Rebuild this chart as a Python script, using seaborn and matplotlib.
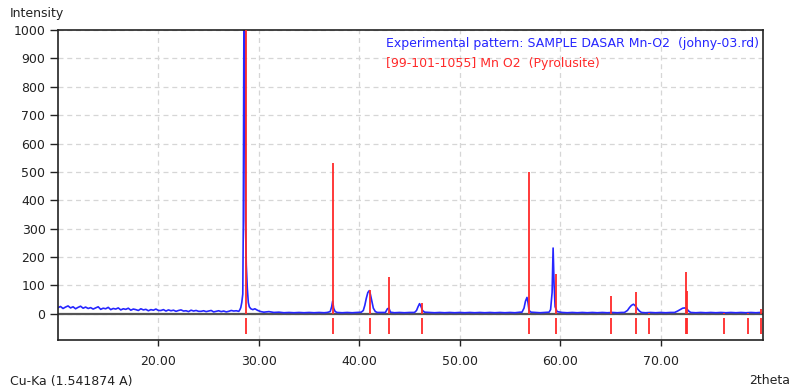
import matplotlib
matplotlib.use("Agg")
import matplotlib.pyplot as plt
import seaborn as sns
import pandas as pd

# Experimental pattern (2theta, counts)
exp_2theta = [
    10.0, 10.25, 10.5, 10.75, 11.0, 11.25, 11.5, 11.75, 12.0, 12.25, 12.5, 12.75, 13.0,
    13.25, 13.5, 13.75, 14.0, 14.25, 14.5, 14.75, 15.0, 15.25, 15.5, 15.75, 16.0,
    16.25, 16.5, 16.75, 17.0, 17.25, 17.5, 17.75, 18.0, 18.25, 18.5, 18.75, 19.0, 19.25, 19.5, 19.75, 20.0,
    20.25, 20.5, 20.75, 21.0, 21.25, 21.5, 21.75, 22.0, 22.25, 22.5, 22.75, 23.0, 23.25, 23.5, 23.75, 24.0,
    24.25, 24.5, 24.75, 25.0, 25.25, 25.5, 25.75, 26.0, 26.25, 26.5, 26.75, 27.0, 27.25, 27.5, 27.75, 28.0,
    28.1, 28.2, 28.3, 28.4, 28.45, 28.52, 28.6, 28.66, 28.75, 28.85, 28.95, 29.05, 29.2, 29.4, 29.6, 29.9,
    30.2, 30.5, 31.0, 31.5, 32.0, 32.5, 33.0, 33.5, 34.0, 34.5, 35.0, 35.5, 36.0, 36.5,
    36.8, 37.1, 37.25, 37.35, 37.45, 37.6, 37.8, 38.3, 38.8, 39.3, 39.8,
    40.2, 40.4, 40.55, 40.7, 40.85, 41.0, 41.1, 41.25, 41.4, 41.6, 41.8, 42.2,
    42.6, 42.8, 42.95, 43.1, 43.5, 44.0, 44.5, 45.0,
    45.5, 45.7, 45.85, 46.0, 46.1, 46.3, 46.5, 47.0, 47.5, 48.0, 48.5, 49.0, 49.5, 50.0,
    50.5, 51.0, 51.5, 52.0, 52.5, 53.0, 53.5, 54.0, 54.5, 55.0, 55.5, 56.0,
    56.2, 56.4, 56.55, 56.7, 56.8, 56.9, 57.1, 57.5, 58.0, 58.5,
    58.9, 59.05, 59.2, 59.3, 59.4, 59.5, 59.7, 60.2, 60.7, 61.2, 61.7, 62.2, 62.7, 63.2, 63.7,
    64.2, 64.7, 65.2, 65.7, 66.1, 66.4, 66.7, 66.9, 67.1, 67.3, 67.5, 67.7, 67.9, 68.1,
    68.5, 69.0, 69.5, 70.0, 70.5, 71.0, 71.4, 71.7, 72.0, 72.2, 72.4, 72.6, 72.8, 73.0,
    73.5, 74.0, 74.5, 75.0, 75.5, 76.0, 76.5, 77.0, 77.5, 78.0, 78.5, 79.0, 79.5, 79.9,
]
exp_counts = [
    22, 26, 19, 24, 28, 21, 25, 18, 23, 27, 20, 24, 19,
    22, 17, 21, 25, 16, 20, 18, 23, 15, 19, 17, 21,
    14, 18, 16, 20, 13, 17, 15, 12, 18, 14, 16, 11, 15, 13, 17, 12,
    12, 15, 10, 14, 11, 13, 9, 12, 14, 10, 11, 8, 13, 10, 12, 9,
    9, 11, 8, 10, 12, 7, 9, 11, 8, 10, 7, 9, 12, 10, 11, 9,
    14, 22, 40, 70, 310, 1150, 1150, 330, 172, 90, 40, 25, 18, 15, 18, 12,
    8, 6, 8, 5, 6, 4, 5, 4, 5, 4, 5, 4, 5, 4,
    5, 8, 25, 45, 20, 8, 5, 4, 5, 4, 5,
    6, 12, 30, 55, 75, 82, 70, 45, 20, 8, 5, 5,
    5, 18, 20, 6, 4, 5, 4, 5,
    5, 12, 25, 36, 30, 12, 6, 5, 4, 5, 4, 5, 4, 5,
    4, 5, 4, 5, 4, 5, 4, 5, 4, 5, 4, 6,
    6, 20, 45, 58, 40, 12, 6, 5, 4, 5,
    6, 15, 75, 232, 100, 25, 8, 5, 4, 5, 4, 5, 4, 5, 4,
    5, 4, 5, 4, 5, 5, 12, 22, 30, 34, 28, 18, 10, 5,
    4, 5, 4, 5, 4, 5, 5, 10, 16, 20, 21, 18, 10, 5,
    4, 5, 4, 5, 4, 5, 4, 5, 4, 5, 4, 5, 4, 5,
]

# Reference pattern [99-101-1055] Mn O2 (Pyrolusite)
ref_2theta = [28.75, 37.42, 41.05, 42.95, 46.2, 56.9, 59.55, 65.1, 67.55, 68.85, 72.5, 72.62, 76.3, 78.7, 80.0]
ref_intensity = [1000, 532, 84, 129, 40, 500, 141, 63, 76, 2, 149, 81, 3, 2, 18]

xticks = [20, 30, 40, 50, 60, 70]
yticks = [0, 100, 200, 300, 400, 500, 600, 700, 800, 900, 1000]

sns.set_theme(style="white")
plt.rcParams['font.family'] = ['DejaVu Sans']

fig = plt.figure(figsize=(7.91, 3.90), dpi=100)
ax = fig.add_axes([58 / 791, 1 - 340 / 390, (763 - 58) / 791, (340 - 30) / 390])

blue = "#2626ff"
red = "#ff2a2a"
txt = "#222222"

ax.axhline(0, color="#555555", lw=1.6, zorder=1)

df = pd.DataFrame({"2theta": exp_2theta, "counts": exp_counts})
sns.lineplot(data=df, x="2theta", y="counts", ax=ax, color=blue, lw=1.2,
             sort=False, estimator=None, zorder=2)

ax.vlines(ref_2theta, 0, ref_intensity, color=red, lw=1.3, zorder=3)
ax.vlines(ref_2theta, -15, -70, color=red, lw=1.3, zorder=3)

ax.set_xlim(10, 80.2)
ax.set_ylim(-92, 1000)
ax.set_xticks(xticks)
ax.set_xticklabels([f"{t:.2f}" for t in xticks])
ax.set_yticks(yticks)
ax.set_yticklabels([str(t) for t in yticks])
ax.set_xlabel("")
ax.set_ylabel("")

ax.grid(True, ls=(0, (4, 3)), color="#d6d6d6", lw=0.9)
ax.set_axisbelow(True)
for s in ax.spines.values():
    s.set_color(txt)
    s.set_linewidth(1.2)
    s.set_visible(True)
ax.tick_params(axis="both", which="both", direction="out", width=1,
               color=txt, labelsize=9, labelcolor=txt)
ax.tick_params(axis="x", bottom=True, length=4, pad=7)
ax.tick_params(axis="y", left=True, length=6, pad=3)

fig.text(10 / 791, 1 - 14 / 390, "Intensity", fontsize=9, color=txt, va="center", ha="left")
fig.text(10 / 791, 1 - 381 / 390, "Cu-Ka (1.541874 A)", fontsize=9, color=txt, va="center", ha="left")
fig.text(790 / 791, 1 - 381 / 390, "2theta", fontsize=9, color=txt, va="center", ha="right")

fig.text(386 / 791, 1 - 43 / 390, "Experimental pattern: SAMPLE DASAR Mn-O2  (johny-03.rd)",
         fontsize=9, color=blue, va="center", ha="left")
fig.text(386 / 791, 1 - 63 / 390, "[99-101-1055] Mn O2  (Pyrolusite)",
         fontsize=9, color=red, va="center", ha="left")

fig.savefig("out.png", dpi=100)
